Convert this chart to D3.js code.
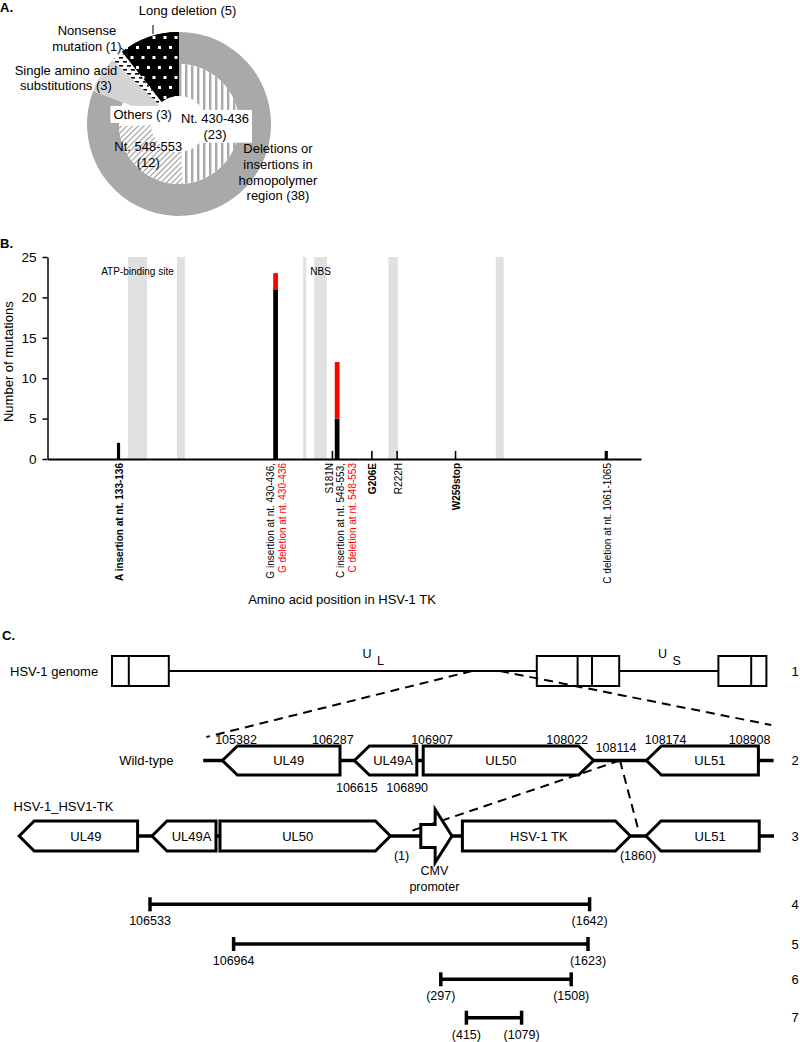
<!DOCTYPE html>
<html>
<head>
<meta charset="utf-8">
<title>HSV-1 TK mutations</title>
<script src="https://d3js.org/d3.v7.min.js"></script>
<style>
  body { margin: 0; background: #fff; }
  svg text { font-family: Arial, "Liberation Sans", sans-serif; fill: #000; }
</style>
</head>
<body>
<div id="figure"></div>
<script>

/*
 *  Panel A - mutation classes (two-ring doughnut)
 */
var outerCategories = ["Deletions or insertions in homopolymer region", "Single amino acid substitutions", "Nonsense mutation", "Long deletion"];
var outerCounts = [38, 3, 1, 5];
var innerCategories = ["Nt. 430-436", "Nt. 548-553", "Others", "Single amino acid substitutions", "Nonsense mutation", "Long deletion"];
var innerCounts = [23, 12, 3, 3, 1, 5];

/*
 *  Panel B - mutations along HSV-1 TK (376 aa)
 */
var tkLength = 376;
var yTicks = [0, 5, 10, 15, 20, 25];
var mutLabels = ["A insertion at nt. 133-136", "G insertion at nt. 430-436,", "S181N", "C insertion at nt. 548-553,", "G206E", "R222H", "W259stop", "C deletion at nt. 1061-1065"];
var mutLabels2 = ["", "G deletion at nt. 430-436", "", "C deletion at nt. 548-553", "", "", "", ""];
var mutStartAA = [45, 144, 181, 183, 206, 222, 259, 354];
var mutEndAA = [46, 146, 181, 185, 206, 222, 259, 355];
var countsBlack = [2, 21, 1, 5, 1, 1, 1, 1];
var countsRed = [0, 2, 0, 7, 0, 0, 0, 0];
var siteNames = ["ATP-binding site", "", "", "NBS", "", ""];
var siteStartAA = [51, 82, 162, 169, 216, 284];
var siteEndAA = [63, 87, 164, 177, 222, 289];

/*
 *  Panel C - schematic maps (positions in map units, 0-100 across the panel)
 */
var genomeBlockStart = [14.0, 67.1, 89.8];
var genomeBlockEnd = [21.1, 77.4, 95.8];
var genomeDividers = [16.1, 72.2, 74.0, 93.9];
var wtGenes = ["UL49", "UL49A", "UL50", "UL51"];
var wtStart = [27.8, 44.3, 52.9, 80.8];
var wtEnd = [42.5, 52.1, 74.2, 94.8];
var wtStrand = [-1, -1, 1, -1];
var wtCoordText = ["105382", "106287", "106907", "108022", "108114", "108174", "108908", "106615", "106890"];
var wtCoordAt = [29.5, 41.6, 54.0, 70.9, 77.0, 83.2, 93.7, 44.6, 50.9];
var wtCoordSide = ["above", "above", "above", "above", "mid", "above", "above", "below", "below"];
var tkGenes = ["UL49", "UL49A", "UL50", "CMV promoter", "HSV-1 TK", "UL51"];
var tkStart = [2.4, 19.0, 27.5, 52.6, 57.8, 80.75];
var tkEnd = [17.2, 27.0, 48.8, 56.5, 78.8, 94.9];
var tkStrand = [-1, -1, 1, 0, 1, -1];
var insertEndsText = ["(1)", "(1860)"];
var insertEndsAt = [50.2, 79.75];
var ampliconStart = [18.75, 29.2, 55.1, 58.3];
var ampliconEnd = [73.7, 73.5, 71.4, 65.2];
var ampliconStartLabel = ["106533", "106964", "(297)", "(415)"];
var ampliconEndLabel = ["(1642)", "(1623)", "(1508)", "(1079)"];


var svg = d3.select("#figure").append("svg")
    .attr("width", 800)
    .attr("height", 1042);

var defs = svg.append("defs");

// fill patterns (Excel style)
var p = defs.append("pattern").attr("id", "vstripes").attr("patternUnits", "userSpaceOnUse")
    .attr("width", 6).attr("height", 6);
p.append("rect").attr("width", 6).attr("height", 6).attr("fill", "#fff");
p.append("rect").attr("width", 2.4).attr("height", 6).attr("fill", "#a9a9a9");

p = defs.append("pattern").attr("id", "hatch").attr("patternUnits", "userSpaceOnUse")
    .attr("width", 4).attr("height", 4).attr("patternTransform", "rotate(45)");
p.append("rect").attr("width", 4).attr("height", 4).attr("fill", "#fff");
p.append("rect").attr("width", 1.1).attr("height", 4).attr("fill", "#9a9a9a");

p = defs.append("pattern").attr("id", "dots").attr("patternUnits", "userSpaceOnUse")
    .attr("width", 11).attr("height", 20);
p.append("rect").attr("width", 11).attr("height", 20).attr("fill", "#000");
p.append("rect").attr("x", 1).attr("y", 2).attr("width", 3).attr("height", 3).attr("fill", "#fff");
p.append("rect").attr("x", 6.5).attr("y", 12).attr("width", 3).attr("height", 3).attr("fill", "#fff");

p = defs.append("pattern").attr("id", "dashes").attr("patternUnits", "userSpaceOnUse")
    .attr("width", 8).attr("height", 8);
p.append("rect").attr("width", 8).attr("height", 8).attr("fill", "#fff");
p.append("rect").attr("x", 0).attr("y", 1).attr("width", 4).attr("height", 1.6).attr("fill", "#000");
p.append("rect").attr("x", 4).attr("y", 5).attr("width", 4).attr("height", 1.6).attr("fill", "#000");

function panelLetter(t, x, y) {
    svg.append("text").attr("x", x).attr("y", y)
        .attr("font-size", 13).attr("font-weight", "bold").text(t);
}


/*
 *  Panel A
 */
panelLetter("A.", 0, 12);

var fills = {
    "Deletions or insertions in homopolymer region": "#a9a9a9",
    "Single amino acid substitutions": "#d4d4d4",
    "Nonsense mutation": "url(#dashes)",
    "Long deletion": "url(#dots)",
    "Nt. 430-436": "url(#vstripes)",
    "Nt. 548-553": "url(#hatch)",
    "Others": "#fff"
};

var pieG = svg.append("g").attr("transform", "translate(179,124)");
var rHole = 28, rMid = 60, rOuter = 92;

var pie = d3.pie().sort(null).value(function(d) { return d.value; });

var outerData = outerCategories.map(function(c, i) { return {cat: c, value: outerCounts[i]}; });
var innerData = innerCategories.map(function(c, i) { return {cat: c, value: innerCounts[i]}; });

var outerArc = d3.arc().innerRadius(rMid).outerRadius(rOuter);
pieG.selectAll(".outer").data(pie(outerData)).enter().append("path")
    .attr("class", "outer")
    .attr("d", outerArc)
    .attr("fill", function(d) { return fills[d.data.cat]; });

// categories present in both rings are drawn as one full wedge
var innerArc = d3.arc().innerRadius(rHole).outerRadius(function(d) {
    return outerCategories.indexOf(d.data.cat) >= 0 ? rOuter : rMid;
});
pieG.selectAll(".inner").data(pie(innerData)).enter().append("path")
    .attr("class", "inner")
    .attr("d", innerArc)
    .attr("fill", function(d) { return fills[d.data.cat]; });

function wrapWords(text, maxChars) {
    var words = text.split(" "), lines = [], cur = "";
    words.forEach(function(w) {
        if (cur === "") cur = w;
        else if ((cur + " " + w).length <= maxChars) cur += " " + w;
        else { lines.push(cur); cur = w; }
    });
    lines.push(cur);
    return lines;
}

// label placement for doughnut
var pieLabels = [
    {ring: "outer", cat: "Long deletion", x: 187.5, y: 15.3, wrap: 20},
    {ring: "outer", cat: "Nonsense mutation", x: 87, y: 35.3, wrap: 13},
    {ring: "outer", cat: "Single amino acid substitutions", x: 66, y: 74.6, wrap: 17},
    {ring: "outer", cat: "Deletions or insertions in homopolymer region", x: 278, y: 153, wrap: 13},
    {ring: "inner", cat: "Others", x: 142.7, y: 118.9, wrap: 11, box: true},
    {ring: "inner", cat: "Nt. 430-436", x: 215, y: 122.9, wrap: 11, box: true},
    {ring: "inner", cat: "Nt. 548-553", x: 148.3, y: 151.3, wrap: 11}
];

pieLabels.forEach(function(l) {
    var cats = l.ring === "outer" ? outerCategories : innerCategories;
    var vals = l.ring === "outer" ? outerCounts : innerCounts;
    var txt = l.cat + " (" + vals[cats.indexOf(l.cat)] + ")";
    var g = svg.append("g");
    var t = g.append("text").attr("font-size", 13).attr("text-anchor", "middle");
    wrapWords(txt, l.wrap).forEach(function(line, k) {
        t.append("tspan").attr("x", l.x).attr("y", l.y + k * 15.8).text(line);
    });
    if (l.box) {
        var bb = t.node().getBBox();
        g.insert("rect", "text")
            .attr("x", bb.x - 3).attr("y", bb.y - 1)
            .attr("width", bb.width + 6).attr("height", bb.height + 2)
            .attr("fill", "#fff");
    }
});

// leader lines
svg.append("line").attr("x1", 153).attr("x2", 153).attr("y1", 25).attr("y2", 34)
    .attr("stroke", "#000").attr("stroke-width", 1);
svg.append("line").attr("x1", 121).attr("x2", 125).attr("y1", 48).attr("y2", 51)
    .attr("stroke", "#000").attr("stroke-width", 1);


/*
 *  Panel B
 */
panelLetter("B.", 0, 248);

var xAA = d3.scaleLinear().domain([0, tkLength]).range([47.5, 641]);
var yCount = d3.scaleLinear().domain([0, 25]).range([459, 257]);

var chartB = svg.append("g");

// conserved sites
chartB.selectAll(".site").data(siteStartAA).enter().append("rect")
    .attr("class", "site")
    .attr("x", function(d) { return xAA(d); })
    .attr("width", function(d, i) { return xAA(siteEndAA[i]) - xAA(d); })
    .attr("y", yCount(25))
    .attr("height", yCount(0) - yCount(25))
    .attr("fill", "#e0e0e0");

chartB.selectAll(".site-label").data(siteNames.filter(function(d) { return d !== ""; })).enter()
    .append("text")
    .attr("class", "site-label")
    .attr("x", function(d) {
        var i = siteNames.indexOf(d);
        return xAA((siteStartAA[i] + siteEndAA[i]) / 2);
    })
    .attr("y", 275)
    .attr("font-size", 10)
    .attr("text-anchor", "middle")
    .text(function(d) { return d; });

// stacked bars
var barRows = mutLabels.map(function(d, i) {
    return {start: mutStartAA[i] - 1, end: mutEndAA[i], black: countsBlack[i], red: countsRed[i]};
});
var stack = d3.stack().keys(["black", "red"]);
var barColors = {black: "#000", red: "#ff0000"};

chartB.selectAll(".series").data(stack(barRows)).enter().append("g")
    .attr("class", "series")
    .attr("fill", function(d) { return barColors[d.key]; })
    .selectAll("rect").data(function(d) { return d; }).enter().append("rect")
    .attr("x", function(d) { return xAA(d.data.start); })
    .attr("width", function(d) { return xAA(d.data.end) - xAA(d.data.start); })
    .attr("y", function(d) { return yCount(d[1]); })
    .attr("height", function(d) { return yCount(d[0]) - yCount(d[1]); });

// axes
var yAxis = d3.axisLeft(yCount).tickValues(yTicks).tickSize(5).tickSizeOuter(0).tickPadding(6);
var gy = chartB.append("g").attr("transform", "translate(" + xAA(0) + ",0)").call(yAxis);
gy.select(".domain").attr("stroke-width", 1.5);
gy.selectAll("line").attr("stroke-width", 1.5);
gy.selectAll("text").attr("font-size", 13.5).attr("font-family", null);

var xAxis = d3.axisBottom(xAA).tickValues([]).tickSizeOuter(0);
var gx = chartB.append("g").attr("transform", "translate(0," + yCount(0) + ")").call(xAxis);
gx.select(".domain").attr("stroke-width", 2);

chartB.append("text")
    .attr("transform", "translate(12.8,361.7) rotate(-90)")
    .attr("text-anchor", "middle")
    .attr("font-size", 13)
    .text("Number of mutations");

chartB.append("text")
    .attr("x", 342).attr("y", 604)
    .attr("text-anchor", "middle")
    .attr("font-size", 13)
    .text("Amino acid position in HSV-1 TK");

// vertical mutation labels, spread apart where they collide
var boldLabels = ["A insertion at nt. 133-136", "G206E", "W259stop"];
var lineGap = 12, minGap = 11.5;
var labelLines = [];
mutLabels.forEach(function(t, i) {
    var cx = xAA((mutStartAA[i] - 1 + mutEndAA[i]) / 2) + 1;
    if (mutLabels2[i]) {
        labelLines.push({text: t, want: cx - lineGap / 2, color: "#000"});
        labelLines.push({text: mutLabels2[i], want: cx + lineGap / 2, color: "#ff0000"});
    } else {
        labelLines.push({text: t, want: cx, color: "#000"});
    }
});
var clusters = [];
labelLines.forEach(function(l, i) {
    l.x = l.want;
    if (i > 0 && l.x - labelLines[i - 1].x < minGap) {
        l.x = labelLines[i - 1].x + minGap;
        clusters[clusters.length - 1].push(l);
    } else {
        clusters.push([l]);
    }
});
clusters.forEach(function(c) {
    var shift = d3.mean(c, function(l) { return l.x - l.want; }) / 2;
    c.forEach(function(l) { l.x -= shift; });
});

chartB.selectAll(".mut-label").data(labelLines).enter().append("text")
    .attr("class", "mut-label")
    .attr("transform", function(d) { return "translate(" + d.x + ",463) rotate(-90)"; })
    .attr("dy", "0.35em")
    .attr("text-anchor", "end")
    .attr("font-size", 10)
    .attr("font-weight", function(d) { return boldLabels.indexOf(d.text) >= 0 ? "bold" : "normal"; })
    .style("fill", function(d) { return d.color; })
    .text(function(d) { return d.text; });


/*
 *  Panel C
 */
panelLetter("C.", 2, 640);

var xMap = d3.scaleLinear().domain([0, 100]).range([0, 800]);
var rowY = [671, 760.5, 836, 904.3, 944, 979.3, 1017.7];
var chartC = svg.append("g");

function rowNumber(i) {
    chartC.append("text").attr("x", xMap(99.4)).attr("y", rowY[i] + 4.5)
        .attr("text-anchor", "middle").attr("font-size", 13).text(i + 1);
}

// row 1: genome
chartC.append("text").attr("x", 10).attr("y", rowY[0] + 4.5).attr("font-size", 13).text("HSV-1 genome");
chartC.append("line")
    .attr("x1", xMap(genomeBlockEnd[0])).attr("x2", xMap(genomeBlockStart[2]))
    .attr("y1", rowY[0]).attr("y2", rowY[0])
    .attr("stroke", "#000").attr("stroke-width", 2);
chartC.selectAll(".gblock").data(genomeBlockStart).enter().append("rect")
    .attr("class", "gblock")
    .attr("x", function(d) { return xMap(d); })
    .attr("width", function(d, i) { return xMap(genomeBlockEnd[i]) - xMap(d); })
    .attr("y", rowY[0] - 15).attr("height", 30)
    .attr("fill", "#fff").attr("stroke", "#000").attr("stroke-width", 2);
chartC.selectAll(".gdiv").data(genomeDividers).enter().append("line")
    .attr("class", "gdiv")
    .attr("x1", function(d) { return xMap(d); }).attr("x2", function(d) { return xMap(d); })
    .attr("y1", rowY[0] - 15).attr("y2", rowY[0] + 15)
    .attr("stroke", "#000").attr("stroke-width", 2);
[["U", "L", 45.3], ["U", "S", 82.25]].forEach(function(r) {
    chartC.append("text").attr("x", xMap(r[2])).attr("y", rowY[0] - 13).attr("font-size", 12.5).text(r[0]);
    chartC.append("text").attr("x", xMap(r[2]) + 14.5).attr("y", rowY[0] - 6).attr("font-size", 12.5).text(r[1]);
});
rowNumber(0);

// zoom-in dashed lines
var dashed = [
    [[59.0, rowY[0]], [25.8, rowY[1] - 23.5]],
    [[62.5, rowY[0]], [96.4, rowY[1] - 35.5]],
    [[77.5, rowY[1]], [51.0, rowY[2] - 4]],
    [[77.5, rowY[1]], [79.8, rowY[2] - 6]]
];
dashed.forEach(function(s) {
    chartC.append("line")
        .attr("x1", xMap(s[0][0])).attr("y1", s[0][1])
        .attr("x2", xMap(s[1][0])).attr("y2", s[1][1])
        .attr("stroke", "#000").attr("stroke-width", 2).attr("stroke-dasharray", "9,6");
});

// gene shapes
var head = 15;
function genePath(x1, x2, strand, yc, h) {
    var t = yc - h / 2, b = yc + h / 2;
    if (strand > 0) {
        return "M" + x1 + "," + t + "H" + (x2 - head) + "L" + x2 + "," + yc +
            "L" + (x2 - head) + "," + b + "H" + x1 + "Z";
    }
    if (strand < 0) {
        return "M" + x1 + "," + yc + "L" + (x1 + head) + "," + t + "H" + x2 +
            "V" + b + "H" + (x1 + head) + "Z";
    }
    // promoter block arrow
    var xb = x1 + 0.46 * (x2 - x1);
    return "M" + x1 + "," + (yc - 11.5) + "H" + xb + "V" + (yc - 26.5) + "L" + x2 + "," + yc +
        "L" + xb + "," + (yc + 26.5) + "V" + (yc + 11.5) + "H" + x1 + "Z";
}

function drawMap(names, starts, ends, strands, yc, h, x0, x1) {
    chartC.append("line")
        .attr("x1", xMap(x0)).attr("x2", xMap(x1))
        .attr("y1", yc).attr("y2", yc)
        .attr("stroke", "#000").attr("stroke-width", 3.5);
    var g = chartC.selectAll(null).data(names).enter().append("g");
    g.append("path")
        .attr("d", function(d, i) { return genePath(xMap(starts[i]), xMap(ends[i]), strands[i], yc, h); })
        .attr("fill", "#fff").attr("stroke", "#000").attr("stroke-width", 3)
        .attr("stroke-linejoin", "miter");
    g.filter(function(d, i) { return strands[i] !== 0; }).append("text")
        .attr("x", function(d) {
            var i = names.indexOf(d), a = xMap(starts[i]), b = xMap(ends[i]);
            return strands[i] > 0 ? (a + b - head) / 2 : (a + head + b) / 2;
        })
        .attr("y", yc + 4.5)
        .attr("text-anchor", "middle").attr("font-size", 13)
        .text(function(d) { return d; });
}

// row 2: wild-type
chartC.append("text").attr("x", xMap(14.9)).attr("y", rowY[1] + 4.5).attr("font-size", 13).text("Wild-type");
drawMap(wtGenes, wtStart, wtEnd, wtStrand, rowY[1], 29, 25.4, 96.7);
var coordOffset = {above: -16.5, mid: -8.5, below: 31.5};
chartC.selectAll(".wt-coord").data(wtCoordText).enter().append("text")
    .attr("class", "wt-coord")
    .attr("x", function(d, i) { return xMap(wtCoordAt[i]); })
    .attr("y", function(d, i) { return rowY[1] + coordOffset[wtCoordSide[i]]; })
    .attr("text-anchor", "middle").attr("font-size", 12.5)
    .text(function(d) { return d; });
rowNumber(1);

// row 3: recombinant
chartC.append("text").attr("x", xMap(1.7)).attr("y", rowY[2] - 25).attr("font-size", 13).text("HSV-1_HSV1-TK");
drawMap(tkGenes, tkStart, tkEnd, tkStrand, rowY[2], 30, 2.4, 96.75);
chartC.selectAll(".ins-end").data(insertEndsText).enter().append("text")
    .attr("class", "ins-end")
    .attr("x", function(d, i) { return xMap(insertEndsAt[i]); })
    .attr("y", rowY[2] + 23.5)
    .attr("text-anchor", "middle").attr("font-size", 12.5)
    .text(function(d) { return d; });
var promIdx = tkStrand.indexOf(0);
tkGenes[promIdx].split(" ").forEach(function(w, k) {
    chartC.append("text")
        .attr("x", xMap((tkStart[promIdx] + tkEnd[promIdx]) / 2) - 2)
        .attr("y", rowY[2] + 38.5 + k * 16)
        .attr("text-anchor", "middle").attr("font-size", 12.5).text(w);
});
rowNumber(2);

// rows 4-7: amplicons
ampliconStart.forEach(function(s, i) {
    var y = rowY[3 + i], a = xMap(s), b = xMap(ampliconEnd[i]);
    chartC.append("line").attr("x1", a).attr("x2", b).attr("y1", y).attr("y2", y)
        .attr("stroke", "#000").attr("stroke-width", 3.5);
    [a, b].forEach(function(x) {
        chartC.append("line").attr("x1", x).attr("x2", x).attr("y1", y - 7).attr("y2", y + 7)
            .attr("stroke", "#000").attr("stroke-width", 3.5);
    });
    chartC.append("text").attr("x", a).attr("y", y + 21).attr("text-anchor", "middle")
        .attr("font-size", 12.5).text(ampliconStartLabel[i]);
    chartC.append("text").attr("x", b).attr("y", y + 21).attr("text-anchor", "middle")
        .attr("font-size", 12.5).text(ampliconEndLabel[i]);
    rowNumber(3 + i);
});

</script>
</body>
</html>
